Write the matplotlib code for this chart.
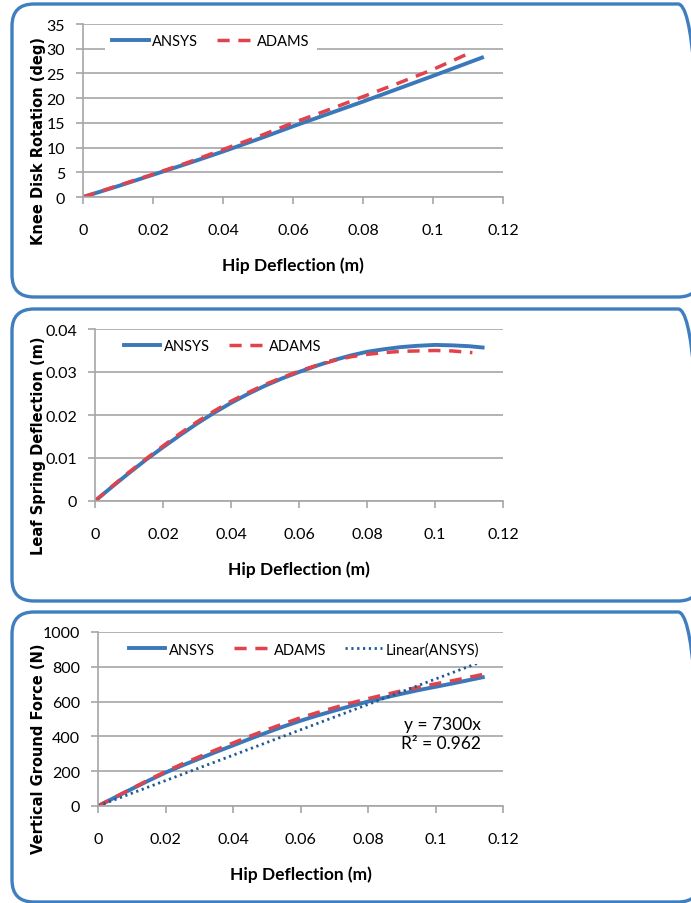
import matplotlib
matplotlib.use("Agg")
import matplotlib.pyplot as plt
from matplotlib.patches import FancyBboxPatch

# ---- data ----
hip = [0, 0.01, 0.02, 0.03, 0.04, 0.05, 0.06, 0.07, 0.08, 0.09, 0.1, 0.114]
hip_adams_short = [0, 0.01, 0.02, 0.03, 0.04, 0.05, 0.06, 0.07, 0.08, 0.09, 0.1, 0.111]

knee_ansys = [0, 2.2, 4.5, 6.8, 9.2, 11.7, 14.3, 16.8, 19.3, 21.9, 24.5, 28.2]
knee_adams = [0, 2.3, 4.6, 7.0, 9.6, 12.2, 15.0, 17.6, 20.3, 23.0, 25.8, 29.3]

# finer reading for the curved panels
hip_fine = [0, 0.005, 0.01, 0.015, 0.02, 0.025, 0.03, 0.035, 0.04, 0.045, 0.05, 0.055,
            0.06, 0.065, 0.07, 0.075, 0.08, 0.085, 0.09, 0.095, 0.1, 0.105, 0.11, 0.114]
hip_fine_adams = [0, 0.005, 0.01, 0.015, 0.02, 0.025, 0.03, 0.035, 0.04, 0.045, 0.05, 0.055,
                  0.06, 0.065, 0.07, 0.075, 0.08, 0.085, 0.09, 0.095, 0.1, 0.105, 0.111]

leaf_ansys = [0, 0.0033, 0.0065, 0.0096, 0.0125, 0.0153, 0.0180, 0.0205, 0.0228, 0.0249,
              0.0268, 0.0285, 0.0300, 0.0314, 0.0327, 0.0338, 0.0347, 0.0353, 0.0358,
              0.0361, 0.0363, 0.0362, 0.0360, 0.0357]
leaf_adams = [0, 0.0034, 0.0067, 0.0098, 0.0128, 0.0157, 0.0184, 0.0209, 0.0232, 0.0252,
              0.0271, 0.0287, 0.0302, 0.0315, 0.0326, 0.0335, 0.0341, 0.0345, 0.0348,
              0.0349, 0.0350, 0.0349, 0.0345]

force_ansys = [0, 49, 98, 146, 192, 233, 272, 311, 348, 386, 422, 457, 490, 520, 548,
               575, 600, 623, 645, 666, 685, 704, 724, 740]
force_adams = [0, 50, 100, 150, 198, 242, 283, 323, 362, 401, 438, 473, 507, 537, 565,
               592, 617, 640, 662, 683, 702, 720, 740, 756]

linear_x = [0, 0.114]
linear_y = [0, 832]

xticks = [0, 0.02, 0.04, 0.06, 0.08, 0.1, 0.12]
xticklabels = ["0", "0.02", "0.04", "0.06", "0.08", "0.1", "0.12"]

BLUE = "#3a78ba"
RED = "#e0434c"
DARK = "#1d5a96"
GRID = "#a6a6a6"
BOX = "#3f7fc0"

narrow = ["Lato", "DejaVu Sans"]
TICK_FS = 11.5
LEG_FS = 10.5

fig = plt.figure(figsize=(6.91, 9.04), dpi=100)

# rounded frames around each chart (pixel coords), right side runs off the image
for y0, h in [(606, 293), (302, 292), (1, 290)]:
    fig.add_artist(FancyBboxPatch((12, y0), 688, h,
                                  boxstyle="round,pad=0,rounding_size=22",
                                  transform=None, fill=False,
                                  edgecolor=BOX, linewidth=2.4))


def style_axes(ax, ylim, yticks, yticklabels, ylabel, label_pos):
    ax.set_xlim(0, 0.12)
    ax.set_ylim(*ylim)
    ax.set_xticks(xticks)
    ax.set_xticklabels(xticklabels, family=narrow, fontsize=TICK_FS)
    ax.set_yticks(yticks)
    ax.set_yticklabels(yticklabels, family=narrow, fontsize=TICK_FS)
    ax.grid(axis="y", color=GRID, linewidth=1.2)
    ax.set_axisbelow(True)
    for s in ["top", "right"]:
        ax.spines[s].set_visible(False)
    for s in ["left", "bottom"]:
        ax.spines[s].set_color(GRID)
        ax.spines[s].set_linewidth(1.2)
    ax.tick_params(axis="both", direction="out", color=GRID, width=1.2, length=5)
    ax.tick_params(axis="x", pad=14)
    ax.tick_params(axis="y", pad=8)
    ax.set_xlabel("Hip Deflection (m)", family=narrow, fontsize=12.5,
                  fontweight="bold", labelpad=14)
    ax.set_ylabel(ylabel, family="DejaVu Sans", fontsize=10.5, fontweight="bold")
    ax.yaxis.set_label_coords(*label_pos)


def add_legend(ax, ncol, anchor):
    return ax.legend(loc="upper left", bbox_to_anchor=anchor, ncol=ncol,
                     frameon=True, facecolor="white", edgecolor="none",
                     framealpha=1, fancybox=False, handlelength=2.5,
                     handletextpad=0.25, columnspacing=1.3, borderpad=0.5,
                     prop={"family": narrow, "size": LEG_FS})


# ---- panel 1 ----
ax1 = fig.add_axes([83 / 691, 1 - 198 / 904, 420 / 691, 173 / 904])
ax1.plot(hip, knee_ansys, color=BLUE, lw=2.8, label="ANSYS")
ax1.plot(hip_adams_short, knee_adams, color=RED, lw=2.5, ls=(0, (3.5, 2.5)), label="ADAMS")
style_axes(ax1, (0, 35), list(range(0, 40, 5)), [str(v) for v in range(0, 40, 5)],
           "Knee Disk Rotation (deg)", ((46 - 83) / 420, (198 - 141) / 173))
add_legend(ax1, 2, (0.035, 1.025))

# ---- panel 2 ----
ax2 = fig.add_axes([95 / 691, 1 - 502 / 904, 408 / 691, 172 / 904])
ax2.plot(hip_fine, leaf_ansys, color=BLUE, lw=2.8, label="ANSYS")
ax2.plot(hip_fine_adams, leaf_adams, color=RED, lw=2.5, ls=(0, (3.5, 2.5)), label="ADAMS")
style_axes(ax2, (0, 0.04), [0, 0.01, 0.02, 0.03, 0.04],
           ["0", "0.01", "0.02", "0.03", "0.04"], "Leaf Spring Deflection (m)",
           ((46 - 95) / 408, (502 - 446) / 172))
add_legend(ax2, 2, (0.035, 1.025))

# ---- panel 3 ----
ax3 = fig.add_axes([98 / 691, 1 - 807 / 904, 405 / 691, 174 / 904])
ax3.plot(hip_fine, force_ansys, color=BLUE, lw=2.8, label="ANSYS")
ax3.plot(hip_fine, force_adams, color=RED, lw=2.5, ls=(0, (3.5, 2.5)), label="ADAMS")
ax3.plot(linear_x, linear_y, color=DARK, lw=2.0, ls=(0, (0.8, 1.3)), label="Linear(ANSYS)")
style_axes(ax3, (0, 1000), list(range(0, 1200, 200)),
           [str(v) for v in range(0, 1200, 200)], "Vertical Ground Force (N)",
           ((46 - 98) / 405, (807 - 749) / 174))
add_legend(ax3, 3, (0.04, 1.025))
ax3.text(0.1135, 520, "y = 7300x\nR\u00b2 = 0.962", ha="right", va="top",
         family=narrow, fontsize=12.5, linespacing=1.25)

fig.savefig("out.png", dpi=100)
